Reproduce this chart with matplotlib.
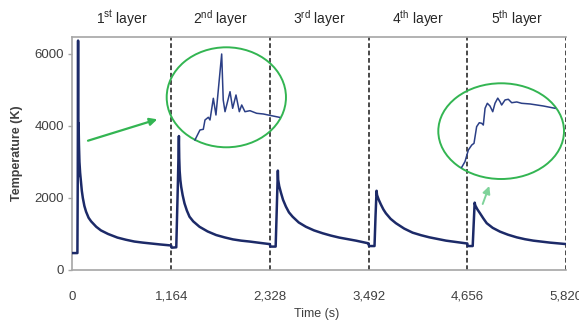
import matplotlib
matplotlib.use("Agg")
import matplotlib.pyplot as plt
from matplotlib.patches import Ellipse

plt.rcParams['font.family'] = ['Liberation Sans', 'DejaVu Sans']
plt.rcParams['mathtext.fontset'] = 'custom'
plt.rcParams['mathtext.rm'] = 'Liberation Sans'

# layer boundaries (s)
layer_start = [0, 1164, 2328, 3492, 4656]
layer_end = 5820
layer_names = [r"1$^{\mathrm{st}}$ layer", r"2$^{\mathrm{nd}}$ layer", r"3$^{\mathrm{rd}}$ layer",
               r"4$^{\mathrm{th}}$ layer", r"5$^{\mathrm{th}}$ layer"]
x_ticks = [0, 1164, 2328, 3492, 4656, 5820]
x_tick_labels = ["0", "1,164", "2,328", "3,492", "4,656", "5,820"]
y_ticks = [0, 2000, 4000, 6000]

# temperature history per layer, time relative to the layer start (s), temperature (K)
t1 = [0, 58, 62, 66, 69, 72, 76, 82, 90, 100, 110, 122, 140, 160, 190, 220, 280, 335, 420, 530,
      630, 730, 830, 930, 1030, 1121, 1163]
T1 = [470, 470, 2500, 6370, 2600, 4080, 3500, 3000, 2700, 2450, 2200, 2000, 1780, 1620, 1450, 1350,
      1200, 1100, 1000, 900, 840, 790, 760, 735, 710, 690, 680]
t2 = [0, 5, 60, 80, 91, 95, 100, 108, 118, 135, 157, 185, 216, 260, 334, 430, 531, 630, 728, 825,
      925, 1040, 1141, 1163]
T2 = [680, 620, 630, 2500, 3720, 3100, 2750, 2500, 2310, 2080, 1850, 1650, 1480, 1350, 1200, 1070,
      970, 905, 850, 815, 790, 755, 725, 720]
t3 = [0, 5, 68, 80, 94, 98, 110, 130, 155, 189, 225, 268, 340, 425, 520, 622, 720, 818, 1015, 1153, 1163]
T3 = [720, 650, 650, 1600, 2760, 2500, 2330, 2150, 1950, 1760, 1600, 1480, 1320, 1200, 1100, 1020,
      955, 900, 815, 745, 740]
t4 = [0, 5, 70, 82, 94, 100, 120, 145, 175, 204, 260, 322, 420, 519, 620, 717, 913, 1149, 1163]
T4 = [740, 665, 665, 1500, 2200, 2080, 1950, 1820, 1680, 1575, 1420, 1300, 1150, 1037, 965, 907,
      815, 740, 738]
t5 = [0, 5, 64, 76, 87, 95, 120, 150, 190, 229, 300, 386, 480, 583, 680, 779, 976, 1164]
T5 = [738, 665, 665, 1300, 1870, 1790, 1680, 1575, 1430, 1300, 1170, 1065, 980, 907, 855, 815, 760, 720]

# zoomed details inside the ellipses (fraction of the ellipse box)
zoom2_x = [0.237, 0.265, 0.279, 0.307, 0.321, 0.349, 0.363, 0.391, 0.413, 0.461, 0.474, 0.489,
           0.531, 0.553, 0.581, 0.609, 0.629, 0.656, 0.698, 0.754, 0.81, 0.944]
zoom2_y = [0.073, 0.14, 0.173, 0.18, 0.273, 0.30, 0.273, 0.49, 0.323, 0.933, 0.473, 0.356,
           0.556, 0.39, 0.523, 0.356, 0.423, 0.356, 0.366, 0.34, 0.333, 0.30]
zoom5_x = [0.186, 0.212, 0.239, 0.266, 0.284, 0.305, 0.326, 0.345, 0.358, 0.372, 0.39, 0.411, 0.433,
           0.451, 0.473, 0.491, 0.504, 0.531, 0.557, 0.584, 0.624, 0.663, 0.73, 0.835, 0.928]
zoom5_y = [0.122, 0.181, 0.303, 0.355, 0.373, 0.547, 0.588, 0.582, 0.564, 0.739, 0.791, 0.763, 0.703,
           0.791, 0.845, 0.808, 0.773, 0.826, 0.833, 0.797, 0.805, 0.791, 0.784, 0.763, 0.739]

line_color = '#1c2a68'
green = '#33b552'
grey = '#a6a6a6'
text_color = '#404040'

fig = plt.figure(figsize=(5.79, 3.26), dpi=100)
ax = fig.add_axes([0.1252, 0.1718, 0.8523, 0.7147])

# main curve
time_all, temp_all = [], []
for start, ts, Ts in zip(layer_start, [t1, t2, t3, t4, t5], [T1, T2, T3, T4, T5]):
    time_all += [start + t for t in ts]
    temp_all += Ts
ax.plot(time_all, temp_all, color=line_color, lw=1.8, solid_joinstyle='round', zorder=3)

# layer boundaries
for b in layer_start[1:] + [layer_end]:
    ax.axvline(b, color='#3a3a3a', lw=1.3, dashes=(2.6, 1.5), zorder=2)

ax.set_xlim(0, layer_end)
ax.set_ylim(0, 6470)
ax.set_xticks(x_ticks)
ax.set_xticklabels(x_tick_labels)
ax.set_yticks(y_ticks)
ax.tick_params(axis='x', length=0, pad=15, labelsize=9.5, colors=text_color)
ax.tick_params(axis='y', length=3, width=1, pad=3, labelsize=9.5, colors=text_color)
ax.tick_params(axis='y', color=grey)
for side in ['left', 'bottom', 'top']:
    ax.spines[side].set_color(grey)
    ax.spines[side].set_linewidth(1.2)
ax.spines['right'].set_visible(False)

ax.set_xlabel("Time (s)", fontsize=9, color=text_color)
ax.xaxis.set_label_coords(0.495, -0.165)
ax.set_ylabel("Temperature (K)", fontsize=9, color=text_color, fontweight='bold')
ax.yaxis.set_label_coords(-0.1, 0.5)

# layer header
for i, name in enumerate(layer_names):
    s = layer_start[i]
    e = layer_start[i + 1] if i + 1 < len(layer_start) else layer_end
    ax.text((s + e) / 2, 1.08, name, transform=ax.get_xaxis_transform(),
            ha='center', va='center', fontsize=10, color='#262626')

# zoom ellipses
for box, zx, zy in [([0.2879, 0.5482, 0.2060, 0.3067], zoom2_x, zoom2_y),
                    ([0.7570, 0.4509, 0.2171, 0.2936], zoom5_x, zoom5_y)]:
    axi = fig.add_axes(box)
    axi.set_xlim(0, 1)
    axi.set_ylim(0, 1)
    axi.axis('off')
    axi.add_patch(Ellipse((0.5, 0.5), 1, 1, fill=False, ec=green, lw=1.4, clip_on=False))
    axi.plot(zx, zy, color='#2b3f86', lw=1.1, solid_joinstyle='round')

# arrows pointing at the zoomed regions
ax.annotate("", xy=(157.3 / 579, 206.7 / 326), xytext=(88 / 579, 185.3 / 326),
            xycoords='figure fraction', textcoords='figure fraction',
            arrowprops=dict(arrowstyle='-|>', color=green, lw=1.6, mutation_scale=11,
                            shrinkA=0, shrinkB=0))
ax.annotate("", xy=(489.3 / 579, 140 / 326), xytext=(482.7 / 579, 122 / 326),
            xycoords='figure fraction', textcoords='figure fraction',
            arrowprops=dict(arrowstyle='-|>', color='#7fd39a', lw=1.4, mutation_scale=11,
                            shrinkA=0, shrinkB=0))

fig.savefig("out.png", dpi=100)
